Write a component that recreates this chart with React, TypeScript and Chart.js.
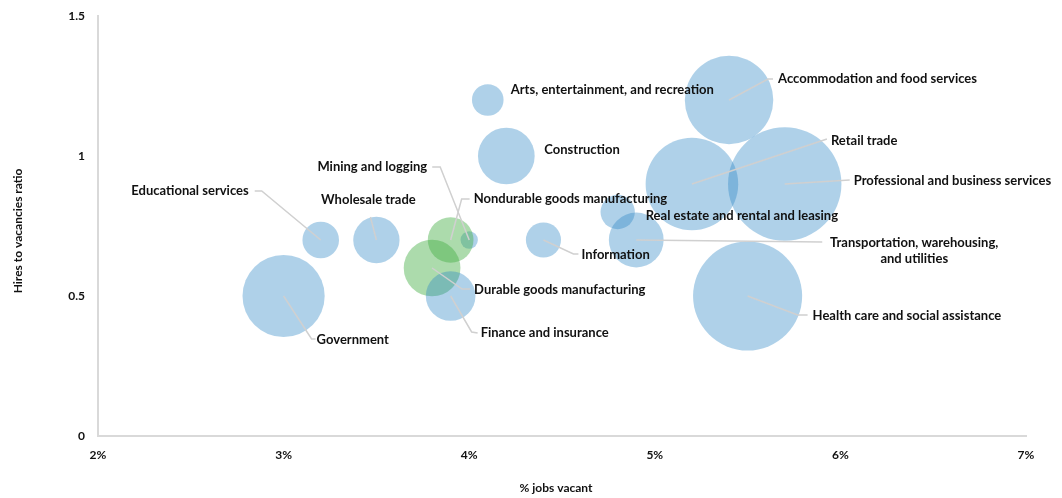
import React, { useEffect, useRef } from "react";
import { Chart, registerables } from "chart.js";

Chart.register(...registerables);

// ---- Data ----
const industries = [
  "Government",
  "Educational services",
  "Wholesale trade",
  "Mining and logging",
  "Nondurable goods manufacturing",
  "Durable goods manufacturing",
  "Finance and insurance",
  "Arts, entertainment, and recreation",
  "Construction",
  "Information",
  "Real estate and rental and leasing",
  "Transportation, warehousing, and utilities",
  "Retail trade",
  "Accommodation and food services",
  "Professional and business services",
  "Health care and social assistance",
];
const jobsVacantPct = [3.0, 3.2, 3.5, 4.0, 3.9, 3.8, 3.9, 4.1, 4.2, 4.4, 4.8, 4.9, 5.2, 5.4, 5.7, 5.5];
const hiresToVacancies = [0.5, 0.7, 0.7, 0.7, 0.7, 0.6, 0.5, 1.2, 1.0, 0.7, 0.8, 0.7, 0.9, 1.2, 0.9, 0.5];
const bubbleSize = [630, 125, 200, 28, 195, 300, 230, 93, 300, 115, 110, 280, 800, 730, 1200, 1110];
const isManufacturing = [false, false, false, false, true, true, false, false, false, false, false, false, false, false, false, false];
const xTickValues = [2, 3, 4, 5, 6, 7];
const yTickValues = [0, 0.5, 1, 1.5];
const xAxisTitle = "% jobs vacant";
const yAxisTitle = "Hires to vacancies ratio";

// ---- Label layout (offsets from bubble centre, px) ----
type Layout = { tx: number; ty: number; align: CanvasTextAlign; lines?: string[]; leader?: number[][] };
const labelLayout: Layout[] = [
  { tx: 33, ty: 44, align: "left", leader: [[0, 0], [28, 43], [32, 43]] },
  { tx: -72, ty: -49, align: "right", leader: [[0, 0], [-59, -49], [-66, -49]] },
  { tx: -8, ty: -40, align: "center", leader: [[0, 0], [-6, -23]] },
  { tx: -42, ty: -73, align: "right", leader: [[0, 0], [-29, -73], [-37, -73]] },
  { tx: 23, ty: -41, align: "left", leader: [[0, 0], [11, -41], [19, -41]] },
  { tx: 42, ty: 22, align: "left", leader: [[0, 0], [30, 21], [38, 21]] },
  { tx: 30, ty: 37, align: "left", leader: [[0, 0], [21, 36], [27, 37]] },
  { tx: 23, ty: -10, align: "left" },
  { tx: 38, ty: -6, align: "left" },
  { tx: 38, ty: 15, align: "left", leader: [[0, 0], [30, 14], [35, 14]] },
  { tx: 28, ty: 4, align: "left" },
  { tx: 278, ty: 3, align: "center", lines: ["Transportation, warehousing,", "and utilities"], leader: [[0, 0], [186, 2]] },
  { tx: 139, ty: -43, align: "left", leader: [[0, 0], [135, -45]] },
  { tx: 49, ty: -21, align: "left", leader: [[0, 0], [39, -21], [44, -21]] },
  { tx: 69, ty: -3, align: "left", leader: [[0, 0], [65, -4]] },
  { tx: 65, ty: 20, align: "left", leader: [[0, 0], [50, 19], [60, 19]] },
];

const FONT = "Lato";
const TEXT_COLOR = "#111111";
const BLUE = "rgba(45,133,197,0.38)";
const GREEN = "rgba(70,175,70,0.45)";
const AREA_PER_UNIT = 2.68; // px^2 per size unit

const labelPlugin = {
  id: "bubbleLabels",
  afterDatasetsDraw(chart: any) {
    const ctx = chart.ctx as CanvasRenderingContext2D;
    const meta = chart.getDatasetMeta(0);
    ctx.save();
    // leaders
    ctx.strokeStyle = "#d0d0d0";
    ctx.lineWidth = 1.5;
    meta.data.forEach((el: any, i: number) => {
      const lay = labelLayout[i];
      if (!lay.leader) return;
      ctx.beginPath();
      lay.leader.forEach((p, j) => {
        const px = el.x + p[0];
        const py = el.y + p[1];
        if (j === 0) ctx.moveTo(px, py);
        else ctx.lineTo(px, py);
      });
      ctx.stroke();
    });
    // texts
    ctx.fillStyle = TEXT_COLOR;
    ctx.font = `bold 13px ${FONT}`;
    ctx.textBaseline = "middle";
    meta.data.forEach((el: any, i: number) => {
      const lay = labelLayout[i];
      const lines = lay.lines || [industries[i]];
      ctx.textAlign = lay.align;
      lines.forEach((ln, k) => {
        ctx.fillText(ln, el.x + lay.tx, el.y + lay.ty + k * 16);
      });
    });
    // axis titles
    const area = chart.chartArea;
    ctx.font = `bold 12px ${FONT}`;
    ctx.textAlign = "center";
    ctx.fillText(xAxisTitle, (area.left + area.right) / 2 - 6, 488);
    ctx.save();
    ctx.translate(18, (area.top + area.bottom) / 2 + 5);
    ctx.rotate(-Math.PI / 2);
    ctx.fillText(yAxisTitle, 0, 0);
    ctx.restore();
    ctx.restore();
  },
};

export default function App() {
  const ref = useRef<HTMLCanvasElement | null>(null);
  useEffect(() => {
    if (!ref.current) return;
    const points = industries.map((_, i) => ({
      x: jobsVacantPct[i],
      y: hiresToVacancies[i],
      r: Math.sqrt(bubbleSize[i] * AREA_PER_UNIT),
    }));
    const chart = new Chart(ref.current, {
      type: "bubble",
      data: {
        datasets: [
          {
            label: "Industries",
            data: points,
            backgroundColor: industries.map((_, i) => (isManufacturing[i] ? GREEN : BLUE)),
            borderWidth: 0,
            clip: false,
          },
        ],
      },
      options: {
        responsive: false,
        animation: false,
        events: [],
        layout: { autoPadding: false, padding: { left: 0, top: 16, right: 36, bottom: 0 } },
        plugins: { legend: { display: false }, tooltip: { enabled: false } },
        scales: {
          x: {
            type: "linear",
            min: 2,
            max: 7,
            afterBuildTicks: (s: any) => {
              s.ticks = xTickValues.map((v) => ({ value: v }));
            },
            afterFit: (s: any) => {
              s.height = 62;
            },
            grid: { display: false, drawTicks: false },
            border: { display: true, color: "#d9d9d9", width: 2 },
            ticks: {
              padding: 12,
              color: TEXT_COLOR,
              font: { family: FONT, size: 12, weight: "bold" },
              callback: (v: any) => `${v}%`,
            },
          },
          y: {
            type: "linear",
            min: 0,
            max: 1.5,
            afterBuildTicks: (s: any) => {
              s.ticks = yTickValues.map((v) => ({ value: v }));
            },
            afterFit: (s: any) => {
              s.width = 98;
              s.paddingTop = 0;
              s.paddingBottom = 0;
            },
            grid: { display: false, drawTicks: false },
            border: { display: true, color: "#d9d9d9", width: 2 },
            ticks: {
              padding: 13,
              color: TEXT_COLOR,
              font: { family: FONT, size: 12, weight: "bold" },
              callback: (v: any) => `${v}`,
            },
          },
        },
      },
      plugins: [labelPlugin],
    });
    return () => chart.destroy();
  }, []);
  return (
    <canvas
      ref={ref}
      width={1062}
      height={498}
      style={{ position: "absolute", left: 0, top: 0, width: 1062, height: 498 }}
    />
  );
}
